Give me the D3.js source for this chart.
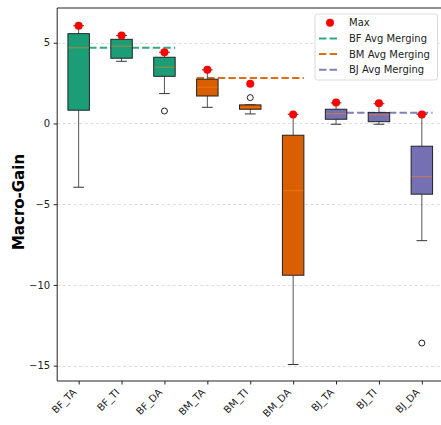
<!DOCTYPE html>
<html>
<head>
<meta charset="utf-8">
<script src="https://cdn.jsdelivr.net/npm/d3@7"></script>
<style>
  body { margin: 0; background: #fff; }
  svg { font-family: "DejaVu Sans", sans-serif; }
</style>
</head>
<body>
<div id="chart"></div>
<script>
'use strict';

// box stats
var categories = ["BF_TA", "BF_TI", "BF_DA", "BM_TA", "BM_TI", "BM_DA", "BJ_TA", "BJ_TI", "BJ_DA"];
var groups     = ["BF", "BF", "BF", "BM", "BM", "BM", "BJ", "BJ", "BJ"];
var q1         = [0.82, 4.04, 2.92, 1.70, 0.88, -9.40, 0.26, 0.11, -4.38];
var medians    = [4.69, 4.78, 3.48, 2.24, 1.00, -4.16, 0.61, 0.54, -3.29];
var q3         = [5.56, 5.21, 4.10, 2.74, 1.15, -0.73, 0.88, 0.67, -1.41];
var whiskerLow = [-3.95, 3.85, 1.85, 1.00, 0.59, -14.93, -0.05, -0.05, -7.26];
var whiskerHigh = [6.05, 5.45, 4.41, 3.32, 1.15, 0.57, 1.27, 1.22, 0.57];
var outliers   = [[], [], [0.77], [], [1.60], [], [], [], [-13.6]];
var maxValues  = [6.05, 5.45, 4.41, 3.32, 2.46, 0.55, 1.29, 1.25, 0.55];

var avgGroups  = ["BF", "BM", "BJ"];
var avgValues  = [4.69, 2.82, 0.67];
var avgSpan    = [[0.75, 3.25], [3.75, 6.25], [6.75, 9.25]];

var yTicks = [-15, -10, -5, 0, 5];

var colors = { BF: "#1b9e77", BM: "#d95f02", BJ: "#7570b3" };

var width = 441, height = 425;
var plotLeft = 57.2, plotRight = 443.3, plotTop = 8, plotBottom = 381;

var svg = d3.select("#chart").append("svg")
  .attr("width", width)
  .attr("height", height);

var x = d3.scaleLinear().domain([0.5, 9.5]).range([plotLeft, plotRight]);
var y = d3.scaleLinear().domain([-15.95, 7.15]).range([plotBottom, plotTop]);
var bw = x(1.25) - x(1); // half box width (box is 0.5 wide)
var cw = x(1.125) - x(1); // half cap width

// grid
svg.append("g").selectAll("line")
  .data(yTicks)
  .enter().append("line")
  .attr("x1", plotLeft).attr("x2", plotRight)
  .attr("y1", function(d){ return Math.round(y(d)) + 0.5; })
  .attr("y2", function(d){ return Math.round(y(d)) + 0.5; })
  .attr("stroke", "#d3d3d3")
  .attr("stroke-width", 0.8)
  .attr("stroke-dasharray", "3,2.5");

// average merging lines (behind boxes)
svg.append("g").selectAll("line")
  .data(avgGroups)
  .enter().append("line")
  .attr("x1", function(d, i){ return x(avgSpan[i][0]); })
  .attr("x2", function(d, i){ return x(avgSpan[i][1]); })
  .attr("y1", function(d, i){ return y(avgValues[i]); })
  .attr("y2", function(d, i){ return y(avgValues[i]); })
  .attr("stroke", function(d){ return colors[d]; })
  .attr("stroke-opacity", 0.9)
  .attr("stroke-width", 2)
  .attr("stroke-dasharray", "7.4,3.2");

var boxes = svg.append("g").selectAll("g")
  .data(categories)
  .enter().append("g")
  .attr("transform", function(d, i){ return "translate(" + x(i + 1) + ",0)"; });

// whiskers
boxes.append("line")
  .attr("x1", 0).attr("x2", 0)
  .attr("y1", function(d, i){ return y(whiskerLow[i]); })
  .attr("y2", function(d, i){ return y(q1[i]); })
  .attr("stroke", "#555").attr("stroke-width", 1);
boxes.append("line")
  .attr("x1", 0).attr("x2", 0)
  .attr("y1", function(d, i){ return y(whiskerHigh[i]); })
  .attr("y2", function(d, i){ return y(q3[i]); })
  .attr("stroke", "#555").attr("stroke-width", 1);
boxes.append("line")
  .attr("x1", -cw).attr("x2", cw)
  .attr("y1", function(d, i){ return y(whiskerLow[i]); })
  .attr("y2", function(d, i){ return y(whiskerLow[i]); })
  .attr("stroke", "#333").attr("stroke-width", 1);
boxes.append("line")
  .attr("x1", -cw).attr("x2", cw)
  .attr("y1", function(d, i){ return y(whiskerHigh[i]); })
  .attr("y2", function(d, i){ return y(whiskerHigh[i]); })
  .attr("stroke", "#333").attr("stroke-width", 1);

// box
boxes.append("rect")
  .attr("x", -bw)
  .attr("width", 2 * bw)
  .attr("y", function(d, i){ return y(q3[i]); })
  .attr("height", function(d, i){ return y(q1[i]) - y(q3[i]); })
  .attr("fill", function(d, i){ return colors[groups[i]]; })
  .attr("stroke", "#222")
  .attr("stroke-width", 1);

// median
boxes.append("line")
  .attr("x1", -bw + 0.5).attr("x2", bw - 0.5)
  .attr("y1", function(d, i){ return y(medians[i]); })
  .attr("y2", function(d, i){ return y(medians[i]); })
  .attr("stroke", "#ff7f0e")
  .attr("stroke-opacity", 0.5)
  .attr("stroke-width", 1.2);

// outliers
boxes.each(function(d, i){
  d3.select(this).selectAll("circle.out")
    .data(outliers[i])
    .enter().append("circle")
    .attr("class", "out")
    .attr("cx", 0)
    .attr("cy", function(v){ return y(v); })
    .attr("r", 3)
    .attr("fill", "none")
    .attr("stroke", "#222")
    .attr("stroke-width", 1);
});

// max points
boxes.append("circle")
  .attr("cx", 0)
  .attr("cy", function(d, i){ return y(maxValues[i]); })
  .attr("r", 4)
  .attr("fill", "#ff0000");

// spines
svg.append("line").attr("x1", plotLeft).attr("x2", plotLeft).attr("y1", plotTop).attr("y2", plotBottom)
  .attr("stroke", "#222").attr("stroke-width", 1);
svg.append("line").attr("x1", plotLeft).attr("x2", plotRight).attr("y1", plotBottom).attr("y2", plotBottom)
  .attr("stroke", "#222").attr("stroke-width", 1);
svg.append("line").attr("x1", plotLeft).attr("x2", plotRight).attr("y1", plotTop).attr("y2", plotTop)
  .attr("stroke", "#222").attr("stroke-width", 1);

// y axis
var yAxis = svg.append("g")
  .attr("transform", "translate(" + plotLeft + ",0)")
  .call(d3.axisLeft(y).tickValues(yTicks).tickSize(3.5).tickPadding(3.5)
    .tickFormat(function(d){ return d < 0 ? "\u2212" + Math.abs(d) : d; }));
yAxis.select(".domain").remove();
yAxis.selectAll("line").attr("stroke", "#222");
yAxis.selectAll("text").attr("font-size", 10).attr("fill", "#222")
  .attr("font-family", "DejaVu Sans");

// x axis
var xAxis = svg.append("g")
  .attr("transform", "translate(0," + plotBottom + ")")
  .call(d3.axisBottom(x).tickValues(d3.range(1, 10)).tickSize(3.5)
    .tickFormat(function(d){ return categories[d - 1]; }));
xAxis.select(".domain").remove();
xAxis.selectAll("line").attr("stroke", "#222");
xAxis.selectAll("text")
  .attr("font-size", 10).attr("fill", "#222")
  .attr("font-family", "DejaVu Sans")
  .attr("text-anchor", "end")
  .attr("dy", null)
  .attr("y", 0)
  .attr("transform", "translate(-2,12) rotate(-45)");

// y label
svg.append("text")
  .attr("transform", "translate(24," + 202 + ") rotate(-90)")
  .attr("text-anchor", "middle")
  .attr("font-size", 15)
  .attr("font-weight", "bold")
  .attr("fill", "#000")
  .text("Macro-Gain");

// legend
var legendLabels = ["Max", "BF Avg Merging", "BM Avg Merging", "BJ Avg Merging"];
var legend = svg.append("g").attr("transform", "translate(315,14)");
legend.append("rect")
  .attr("width", 122.5).attr("height", 66)
  .attr("rx", 2.5)
  .attr("fill", "#fff").attr("fill-opacity", 0.85)
  .attr("stroke", "#d0d0d0").attr("stroke-width", 0.8);
var items = legend.selectAll("g.item")
  .data(legendLabels)
  .enter().append("g")
  .attr("class", "item")
  .attr("transform", function(d, i){ return "translate(0," + (8.7 + i * 15.7) + ")"; });
items.each(function(d, i){
  var g = d3.select(this);
  if (i === 0) {
    g.append("circle").attr("cx", 15).attr("cy", 0).attr("r", 4).attr("fill", "#ff0000");
  } else {
    g.append("line")
      .attr("x1", 4).attr("x2", 24).attr("y1", 0).attr("y2", 0)
      .attr("stroke", colors[avgGroups[i - 1]])
      .attr("stroke-opacity", 0.9)
      .attr("stroke-width", 2)
      .attr("stroke-dasharray", "7.4,3.2");
  }
  g.append("text")
    .attr("x", 34).attr("y", 3.6)
    .attr("font-size", 10).attr("fill", "#222")
    .text(d);
});
</script>
</body>
</html>
